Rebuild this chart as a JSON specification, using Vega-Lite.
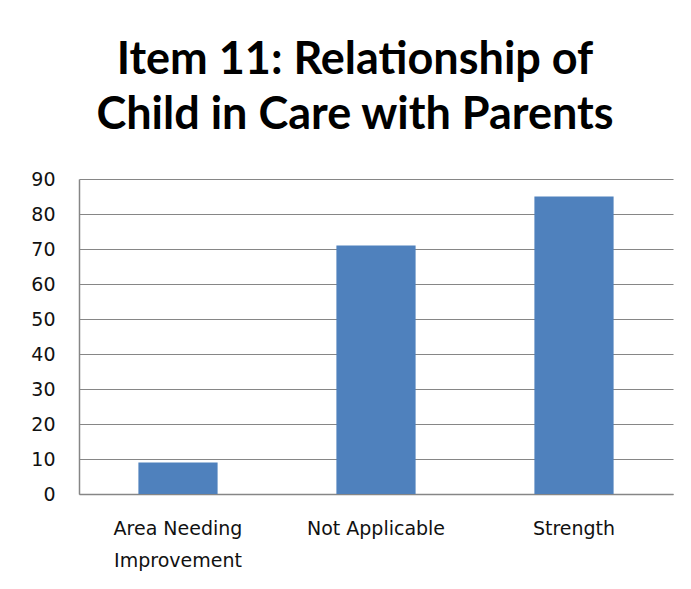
{
  "$schema": "https://vega.github.io/schema/vega-lite/v6.json",
  "width": 594,
  "height": 315,
  "autosize": {"type": "none"},
  "padding": {"left": 79, "top": 179, "right": 18, "bottom": 95},
  "background": "white",
  "title": {
    "text": ["Item 11: Relationship of", "Child in Care with Parents"],
    "font": "Lato",
    "fontSize": 45,
    "fontWeight": "bold",
    "color": "#000000",
    "anchor": "middle",
    "frame": "group",
    "dx": -21,
    "offset": 32,
    "lineHeight": 55
  },
  "data": {
    "values": [
      {"category": "Area Needing Improvement", "count": 9},
      {"category": "Not Applicable", "count": 71},
      {"category": "Strength", "count": 85}
    ]
  },
  "mark": {"type": "bar", "color": "#4F81BD"},
  "encoding": {
    "x": {
      "field": "category",
      "type": "nominal",
      "sort": null,
      "scale": {"paddingInner": 0.6, "paddingOuter": 0.3},
      "axis": {
        "title": null,
        "labelAngle": 0,
        "labelExpr": "datum.value == 'Area Needing Improvement' ? ['Area Needing', 'Improvement'] : datum.value",
        "labelFont": "DejaVu Sans",
        "labelFontSize": 19,
        "labelColor": "#111111",
        "labelLineHeight": 32,
        "labelPadding": 25,
        "labelBaseline": "top",
        "ticks": false,
        "domainColor": "#868686",
        "domainWidth": 1.5,
        "grid": false
      }
    },
    "y": {
      "field": "count",
      "type": "quantitative",
      "scale": {"domain": [0, 90], "nice": false},
      "axis": {
        "title": null,
        "values": [0, 10, 20, 30, 40, 50, 60, 70, 80, 90],
        "labelFont": "DejaVu Sans",
        "labelFontSize": 19,
        "labelColor": "#111111",
        "labelPadding": 24,
        "ticks": false,
        "domainColor": "#868686",
        "domainWidth": 1.5,
        "gridColor": "#868686",
        "gridWidth": 1.2
      }
    }
  },
  "config": {
    "view": {"stroke": null}
  }
}
